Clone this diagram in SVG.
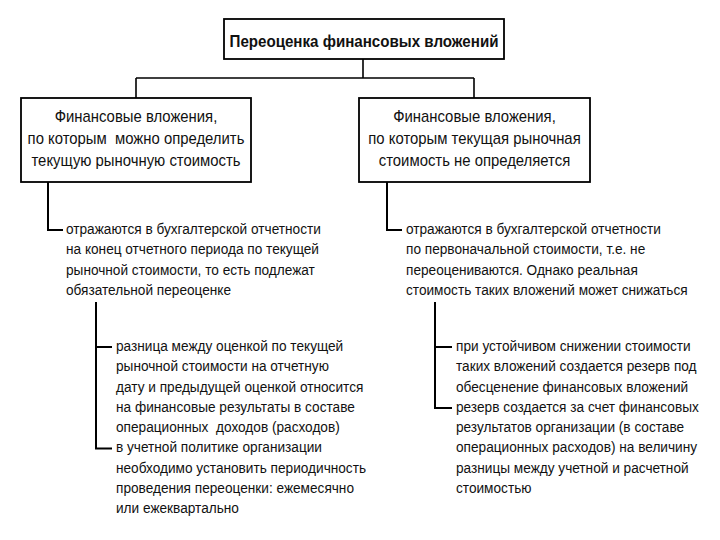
<svg xmlns="http://www.w3.org/2000/svg" width="720" height="540" viewBox="0 0 720 540">
<style>
.box{fill:#fff;stroke:#000;stroke-width:1.8}
.ln{fill:none;stroke:#000;stroke-width:1.6}
.br{fill:none;stroke:#000;stroke-width:2}
text{font-family:"Liberation Sans",Arial,sans-serif;fill:#111}
.title{font-size:17px;font-weight:bold;text-anchor:middle}
.bt{font-size:16px;text-anchor:middle}
.body{font-size:15px}
</style>
<rect width="720" height="540" fill="#fff"/>
<g id="connectors">
<path class="ln" d="M363 59V78M136 78H474M136 78V98M474 78V98"/>
<path class="br" d="M48 182V230H63"/>
<path class="br" d="M387 182V230H402"/>
<path class="br" d="M96 302V448.5H112M96 347H112"/>
<path class="br" d="M435 302V408H452M435 347H452"/>
</g>
<g id="title">
<rect class="box" x="224" y="19" width="280" height="40"/>
<g transform="translate(364 0) scale(0.89 1)"><text class="title" x="0" y="47">Переоценка финансовых вложений</text></g>
</g>
<g id="box-left">
<rect class="box" x="21" y="98" width="230" height="84"/>
<g transform="translate(136 0) scale(0.93 1)">
<text class="bt" x="0" y="122">Финансовые вложения,</text>
<text class="bt" x="0" y="144" xml:space="preserve">по которым  можно определить</text>
<text class="bt" x="0" y="166">текущую рыночную стоимость</text>
</g>
</g>
<g id="box-right">
<rect class="box" x="359" y="98" width="231" height="84"/>
<g transform="translate(474.5 0) scale(0.93 1)">
<text class="bt" x="0" y="122">Финансовые вложения,</text>
<text class="bt" x="0" y="144">по которым текущая рыночная</text>
<text class="bt" x="0" y="166">стоимость не определяется</text>
</g>
</g>
<g id="left-1">
<g transform="translate(66 0) scale(0.91 1)">
<text class="body" x="0" y="234">отражаются в бухгалтерской отчетности</text>
<text class="body" x="0" y="254.3">на конец отчетного периода по текущей</text>
<text class="body" x="0" y="274.6">рыночной стоимости, то есть подлежат</text>
<text class="body" x="0" y="294.9">обязательной переоценке</text>
</g>
</g>
<g id="right-1">
<g transform="translate(406 0) scale(0.91 1)">
<text class="body" x="0" y="234">отражаются в бухгалтерской отчетности</text>
<text class="body" x="0" y="254.3">по первоначальной стоимости, т.е. не</text>
<text class="body" x="0" y="274.6">переоцениваются. Однако реальная</text>
<text class="body" x="0" y="294.9">стоимость таких вложений может снижаться</text>
</g>
</g>
<g id="left-2">
<g transform="translate(116 0) scale(0.91 1)">
<text class="body" x="0" y="351">разница между оценкой по текущей</text>
<text class="body" x="0" y="371.3">рыночной стоимости на отчетную</text>
<text class="body" x="0" y="391.6">дату и предыдущей оценкой относится</text>
<text class="body" x="0" y="411.9">на финансовые результаты в составе</text>
<text class="body" x="0" y="432.2" xml:space="preserve">операционных  доходов (расходов)</text>
<text class="body" x="0" y="452.5">в учетной политике организации</text>
<text class="body" x="0" y="472.8">необходимо установить периодичность</text>
<text class="body" x="0" y="493.1">проведения переоценки: ежемесячно</text>
<text class="body" x="0" y="513.4">или ежеквартально</text>
</g>
</g>
<g id="right-2">
<g transform="translate(456 0) scale(0.91 1)">
<text class="body" x="0" y="351">при устойчивом снижении стоимости</text>
<text class="body" x="0" y="371.3">таких вложений создается резерв под</text>
<text class="body" x="0" y="391.6">обесценение финансовых вложений</text>
<text class="body" x="0" y="411.9">резерв создается за счет финансовых</text>
<text class="body" x="0" y="432.2">результатов организации (в составе</text>
<text class="body" x="0" y="452.5">операционных расходов) на величину</text>
<text class="body" x="0" y="472.8">разницы между учетной и расчетной</text>
<text class="body" x="0" y="493.1">стоимостью</text>
</g>
</g>
</svg>
